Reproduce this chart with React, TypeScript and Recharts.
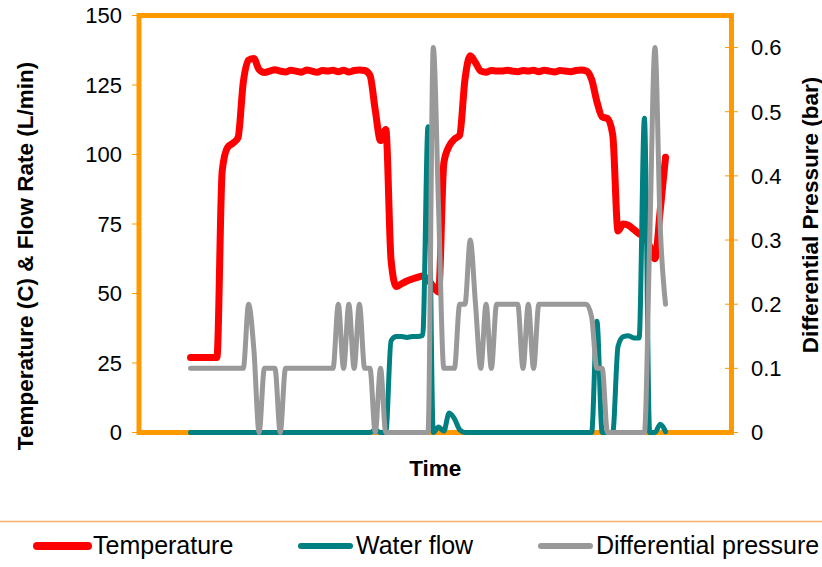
import React from 'react';
import {
  LineChart,
  Line,
  XAxis,
  YAxis,
  ReferenceArea,
} from 'recharts';

// sample index along the time axis (no time labels in the original)
const temperature = [
  27, 27, 27, 27, 27, 27, 94, 102.5, 104, 106,
  126, 134, 134.5, 130.5, 129.5, 130, 130.5, 130, 129.7, 130.3,
  130, 129.6, 130.4, 130, 129.6, 130.2, 130, 130.3, 129.8, 130.3,
  129.7, 130.2, 130.4, 130.2, 128.5, 116, 105, 109, 62, 52.5,
  53.5, 54.5, 55.2, 55.8, 56.3, 55, 52.5, 50.5, 97, 103,
  105.5, 107, 127, 135.5, 133, 130, 129.6, 130.2, 130, 130,
  130.3, 130, 129.8, 130.2, 130, 130.3, 129.8, 130.3, 130, 129.7,
  130.2, 130, 129.8, 130.2, 130.4, 130, 127, 119, 113.5, 113,
  107, 72.5, 75, 74.5, 73, 71.5, 70.5, 67, 62.5, 80,
  99,
];

const waterFlow = [
  0, 0, 0, 0, 0, 0, 0, 0, 0, 0,
  0, 0, 0, 0, 0, 0, 0, 0, 0, 0,
  0, 0, 0, 0, 0, 0, 0, 0, 0, 0,
  0, 0, 0, 0, 0, 1, 0, 0, 33, 34.5,
  34.5, 34.2, 34.5, 34.5, 35, 110, 0, 2, 0.5, 7,
  5, 1, 0, 0, 0, 0, 0, 0, 0, 0,
  0, 0, 0, 0, 0, 0, 0, 0, 0, 0,
  0, 0, 0, 0, 0, 0, 0, 40, 0, 0,
  0, 31, 34.5, 34.8, 34, 34, 113, 0, 0, 3,
  0.3,
];

const diffPressure = [
  0.1, 0.1, 0.1, 0.1, 0.1, 0.1, 0.1, 0.1, 0.1, 0.1,
  0.1, 0.2, 0.13, 0, 0.1, 0.1, 0.1, 0, 0.1, 0.1,
  0.1, 0.1, 0.1, 0.1, 0.1, 0.1, 0.1, 0.1, 0.2, 0.1,
  0.2, 0.1, 0.2, 0.1, 0.1, 0, 0.1, 0, 0, 0,
  0, 0, 0, 0, 0, 0, 0.6, 0.35, 0.1, 0.1,
  0.1, 0.2, 0.2, 0.3, 0.2, 0.1, 0.2, 0.1, 0.2, 0.2,
  0.2, 0.2, 0.2, 0.1, 0.2, 0.1, 0.2, 0.2, 0.2, 0.2,
  0.2, 0.2, 0.2, 0.2, 0.2, 0.2, 0.18, 0.1, 0.1, 0,
  0, 0, 0, 0, 0, 0, 0, 0.3, 0.6, 0.32,
  0.2,
];

const leftTicks = [0, 25, 50, 75, 100, 125, 150];
const rightTicks = [0, 0.1, 0.2, 0.3, 0.4, 0.5, 0.6];

const chartData = temperature.map((t, i) => ({
  i,
  temperature: t,
  waterFlow: waterFlow[i],
  diffPressure: diffPressure[i],
}));

const W = 822;
const H = 567;
const PLOT_LEFT = 139;
const PLOT_RIGHT = 731.5;
const PLOT_TOP = 15.5;
const PLOT_BOTTOM = 432.5;
const X_MIN = -9.76;
const X_MAX = 102.5;

const ORANGE = '#FF9900';
const RED = '#FF0000';
const TEAL = '#008080';
const GRAY = '#999999';
const FONT = '"Liberation Sans", Arial, sans-serif';

const LeftTick = (props: any) => {
  const { y, payload } = props;
  return (
    <g>
      <line x1={PLOT_LEFT - 7} x2={PLOT_LEFT} y1={y} y2={y} stroke={ORANGE} strokeWidth={1} />
      <text x={122} y={y} dy="0.36em" textAnchor="end" fontSize={22} fontFamily={FONT} fill="#000">
        {payload.value}
      </text>
    </g>
  );
};

const RightTick = (props: any) => {
  const { y, payload } = props;
  const v: number = payload.value;
  return (
    <g>
      <line x1={PLOT_RIGHT - 6.5} x2={PLOT_RIGHT + 6.5} y1={y} y2={y} stroke={ORANGE} strokeWidth={1} />
      <text x={751} y={y} dy="0.36em" textAnchor="start" fontSize={22} fontFamily={FONT} fill="#000">
        {v === 0 ? '0' : v.toFixed(1)}
      </text>
    </g>
  );
};

const legendItems = [
  { label: 'Temperature', color: RED, width: 8, x1: 37, x2: 88, tx: 93 },
  { label: 'Water flow', color: TEAL, width: 6, x1: 301, x2: 350, tx: 356 },
  { label: 'Differential pressure', color: GRAY, width: 6, x1: 541, x2: 590, tx: 596 },
];

export default function App() {
  return (
    <div style={{ position: 'absolute', left: 0, top: 0, width: W, height: H, background: '#fff' }}>
      <LineChart
        width={W}
        height={H}
        data={chartData}
        margin={{ top: PLOT_TOP, right: 0, bottom: H - PLOT_BOTTOM, left: 0 }}
      >
        <XAxis type="number" dataKey="i" domain={[X_MIN, X_MAX]} hide />
        <YAxis
          yAxisId="left"
          width={PLOT_LEFT}
          domain={[0, 150]}
          ticks={leftTicks}
          axisLine={false}
          tickLine={false}
          tick={<LeftTick />}
          interval={0}
        />
        <YAxis
          yAxisId="right"
          orientation="right"
          width={W - PLOT_RIGHT}
          domain={[0, 0.65]}
          ticks={rightTicks}
          axisLine={false}
          tickLine={false}
          tick={<RightTick />}
          interval={0}
        />
        <ReferenceArea
          yAxisId="left"
          x1={X_MIN}
          x2={X_MAX}
          y1={0}
          y2={150}
          fill="none"
          stroke={ORANGE}
          strokeWidth={5}
          ifOverflow="visible"
        />
        <Line
          yAxisId="left"
          type="monotone"
          dataKey="temperature"
          stroke={RED}
          strokeWidth={7}
          strokeLinejoin="round"
          strokeLinecap="round"
          dot={false}
          isAnimationActive={false}
        />
        <Line
          yAxisId="left"
          type="monotone"
          dataKey="waterFlow"
          stroke={TEAL}
          strokeWidth={5}
          strokeLinejoin="round"
          strokeLinecap="round"
          dot={false}
          isAnimationActive={false}
        />
        <Line
          yAxisId="right"
          type="monotone"
          dataKey="diffPressure"
          stroke={GRAY}
          strokeWidth={5}
          strokeLinejoin="round"
          strokeLinecap="round"
          dot={false}
          isAnimationActive={false}
        />
      </LineChart>

      <svg
        width={W}
        height={H}
        style={{ position: 'absolute', left: 0, top: 0, pointerEvents: 'none' }}
      >
        <text
          transform="translate(25,256) rotate(-90)"
          dy="0.36em"
          textAnchor="middle"
          fontSize={22.5}
          fontWeight="bold"
          fontFamily={FONT}
        >
          Temperature (C) &amp; Flow Rate (L/min)
        </text>
        <text
          transform="translate(810,215) rotate(-90)"
          dy="0.36em"
          textAnchor="middle"
          fontSize={22.5}
          fontWeight="bold"
          fontFamily={FONT}
        >
          Differential Pressure (bar)
        </text>
        <text
          x={(PLOT_LEFT + PLOT_RIGHT) / 2}
          y={476}
          textAnchor="middle"
          fontSize={22.5}
          fontWeight="bold"
          fontFamily={FONT}
        >
          Time
        </text>
        <line x1={0} x2={W} y1={521.5} y2={521.5} stroke="#F5B06A" strokeWidth={1.5} />
        {legendItems.map((it) => (
          <g key={it.label}>
            <line
              x1={it.x1}
              x2={it.x2}
              y1={546}
              y2={546}
              stroke={it.color}
              strokeWidth={it.width}
              strokeLinecap="round"
            />
            <text x={it.tx} y={554} fontSize={25} fontFamily={FONT} fill="#000">
              {it.label}
            </text>
          </g>
        ))}
      </svg>
    </div>
  );
}
